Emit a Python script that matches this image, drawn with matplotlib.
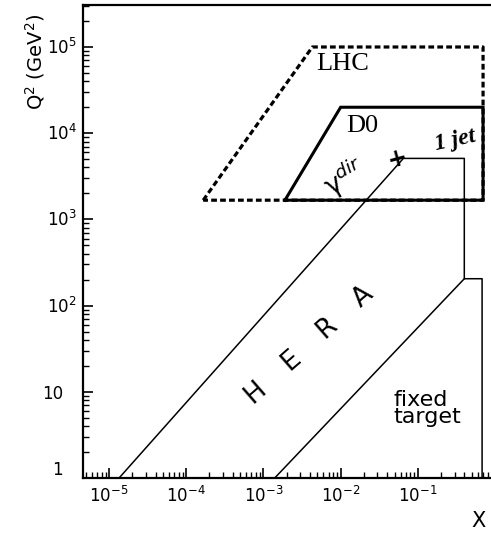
"""Kinematic reach in (x, Q^2) of HERA, fixed target, D0 and LHC."""

import matplotlib

matplotlib.use("Agg")

import matplotlib.pyplot as plt
from matplotlib import transforms
from matplotlib.ticker import LogLocator, NullFormatter

plt.rcParams["mathtext.default"] = "regular"

# region outlines (x, Q^2 in GeV^2)
lhc_x = [1.66e-4, 4.3e-3, 0.70, 0.70, 1.66e-4]
lhc_q2 = [1.67e3, 1.0e5, 1.0e5, 1.67e3, 1.67e3]

d0_x = [1.9e-3, 1.0e-2, 0.70, 0.70, 1.9e-3]
d0_q2 = [1.67e3, 2.0e4, 2.0e4, 1.67e3, 1.67e3]

hera_upper_x = [1.35e-5, 0.065, 0.40, 0.40]
hera_upper_q2 = [1.0, 5.1e3, 5.1e3, 205.0]

hera_lower_x = [1.4e-3, 0.40, 0.68, 0.68]
hera_lower_q2 = [1.0, 205.0, 205.0, 1.0]

x_ticks = [1e-5, 1e-4, 1e-3, 1e-2, 1e-1]
x_ticklabels = [r"$10^{-5}$", r"$10^{-4}$", r"$10^{-3}$", r"$10^{-2}$", r"$10^{-1}$"]

q2_ticks = [1, 10, 1e2, 1e3, 1e4, 1e5]
q2_ticklabels = ["1", "10", r"$10^2$", r"$10^3$", r"$10^4$", r"$10^5$"]

W, H = 491, 533
fig = plt.figure(figsize=(W / 100, H / 100), dpi=100)
ax = fig.add_axes([83 / W, 55 / H, (W - 83) / W, 473 / H])

ax.set_xscale("log")
ax.set_yscale("log")
ax.set_xlim(4.6e-6, 0.887)
ax.set_ylim(1, 3.07e5)

# LHC dashed, D0 solid on top
ax.plot(lhc_x, lhc_q2, color="black", lw=2.3, dashes=(1.8, 1.0),
        solid_capstyle="butt", dash_capstyle="butt")
ax.plot(d0_x, d0_q2, color="black", lw=2.2, solid_joinstyle="miter")
ax.plot(hera_upper_x, hera_upper_q2, color="black", lw=1.1)
ax.plot(hera_lower_x, hera_lower_q2, color="black", lw=1.1)

# region labels
ax.text(4.9e-3, 5.4e4, "LHC", family="Liberation Serif", fontsize=19,
        ha="left", va="baseline")
ax.text(1.17e-2, 1.03e4, "D0", family="Liberation Serif", fontsize=19,
        ha="left", va="baseline")
ax.text(0.0115, 3.0e3, r"$\gamma^{\mathit{dir}}$", fontsize=19, rotation=30,
        ha="center", va="center")
ax.text(0.054, 5.1e3, "+", fontsize=17, fontweight="bold", rotation=15,
        ha="center", va="center")
ax.text(0.30, 8.3e3, "1 jet", family="Liberation Serif", style="italic",
        fontweight="bold", fontsize=17, rotation=12, ha="center", va="center")

hera_letters = ["H", "E", "R", "A"]
hera_pos_x = [7.8e-4, 2.3e-3, 6.6e-3, 1.95e-2]
hera_pos_q2 = [10.0, 23.5, 55.0, 126.0]
for letter, px, py in zip(hera_letters, hera_pos_x, hera_pos_q2):
    ax.text(px, py, letter, fontsize=19, rotation=41, ha="center",
            va="center", rotation_mode="anchor")

ax.text(0.048, 4.35, "fixed\ntarget", fontsize=16, ha="left", va="baseline",
        linespacing=0.78)

# axes styling
ax.spines["right"].set_visible(False)
for side in ("left", "bottom", "top"):
    ax.spines[side].set_linewidth(1.6)

ax.set_xticks(x_ticks)
ax.set_xticklabels(x_ticklabels)
ax.xaxis.set_minor_locator(LogLocator(base=10, subs=range(2, 10), numticks=20))
ax.xaxis.set_minor_formatter(NullFormatter())
ax.yaxis.set_minor_locator(LogLocator(base=10, subs=range(2, 10), numticks=20))
ax.yaxis.set_minor_formatter(NullFormatter())
ax.set_yticks(q2_ticks)
ax.set_yticklabels([])

ax.tick_params(which="major", direction="in", length=7, width=1.2,
               labelsize=12, pad=6, top=False, right=False)
ax.tick_params(which="minor", direction="in", length=4, width=1.0,
               top=False, right=False)

# y tick labels: "10" parts line up, exponents hang to the right
ylab_trans = transforms.blended_transform_factory(fig.transFigure, ax.transData)
for val, lab in zip(q2_ticks, q2_ticklabels):
    dy = 0.03 if val == 1 else -0.07
    off = transforms.ScaledTranslation(0, dy, fig.dpi_scale_trans)
    if lab.startswith("$"):
        ax.text(47 / W, val, lab, transform=ylab_trans + off, ha="left",
                va="baseline", fontsize=12)
    else:
        ax.text(63 / W, val, lab, transform=ylab_trans + off, ha="right",
                va="baseline", fontsize=12)

fig.text(35 / W, 1 - 62 / H, r"Q$^2$ (GeV$^2$)", rotation=90, fontsize=14,
         ha="center", va="center")
fig.text(478 / W, 1 - 521 / H, "X", fontsize=15, ha="center", va="center")

fig.savefig("out.png", dpi=100)
